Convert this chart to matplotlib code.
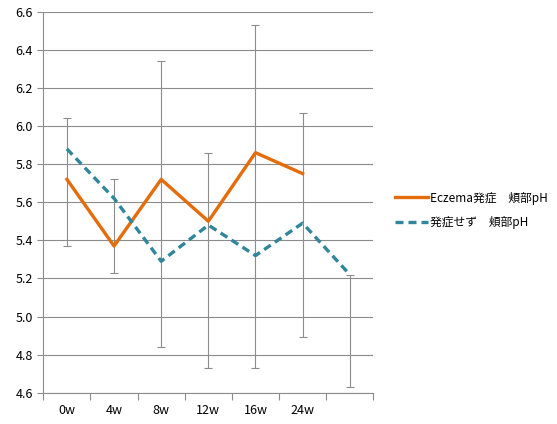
import numpy as np
import matplotlib
matplotlib.use('Agg')
import matplotlib.pyplot as plt

plt.rcParams['font.family'] = ['Noto Sans CJK JP', 'DejaVu Sans']

weeks = ['0w', '4w', '8w', '12w', '16w', '24w', '']
eczema_ph = [5.72, 5.37, 5.72, 5.50, 5.86, 5.75]
no_eczema_ph = [5.88, 5.62, 5.29, 5.48, 5.32, 5.49, 5.22]
# error bar ends as drawn (lower, upper)
err_low = [5.37, 5.23, 4.84, 4.73, 4.73, 4.89, 4.63]
err_high = [6.04, 5.72, 6.34, 5.86, 6.53, 6.07, 5.22]

fig = plt.figure(figsize=(5.57, 4.24), dpi=100)
ax = fig.add_axes([0.0778, 0.0738, 0.5925, 0.8986])

x = np.arange(len(weeks))
low = np.array(err_low)
high = np.array(err_high)
mid = (low + high) / 2
ax.errorbar(x, mid, yerr=[mid - low, high - mid], fmt='none', ecolor='#8c8c8c',
            elinewidth=0.8, capsize=3, capthick=0.8, zorder=2)

ax.plot(x[:len(eczema_ph)], eczema_ph, color='#E46C0A', lw=2.4, zorder=3,
        label='Eczema発症\u3000頬部pH')
ax.plot(x, no_eczema_ph, color='#31859C', lw=2.4, ls=(0, (2.4, 1.5)), zorder=3,
        label='発症せず\u3000頬部pH')

ax.set_xlim(-0.5, len(weeks) - 0.5)
ax.set_ylim(4.6, 6.6)
ax.set_yticks(np.arange(4.6, 6.61, 0.2))
ax.set_yticklabels(['%.1f' % v for v in np.arange(4.6, 6.61, 0.2)], fontsize=9)
ax.yaxis.grid(True, color='#8c8c8c', lw=0.8)
ax.set_axisbelow(True)

ax.set_xticks(np.arange(-0.5, len(weeks)))
ax.set_xticklabels([])
ax.set_xticks(x, minor=True)
ax.set_xticklabels(weeks, minor=True, fontsize=9)
ax.tick_params(axis='x', which='minor', length=0, pad=8)
ax.tick_params(axis='x', which='major', length=5, color='#8c8c8c')
ax.tick_params(axis='y', length=4, color='#8c8c8c')

for s in ['top', 'right']:
    ax.spines[s].set_visible(False)
for s in ['left', 'bottom']:
    ax.spines[s].set_color('#8c8c8c')
    ax.spines[s].set_linewidth(0.8)

fig.legend(loc='center left', bbox_to_anchor=(0.709, 0.5035), frameon=False,
           fontsize=8.5, handlelength=2.8, handletextpad=0.2, labelspacing=1.0,
           borderaxespad=0, borderpad=0)

fig.savefig('out.png', dpi=100)
